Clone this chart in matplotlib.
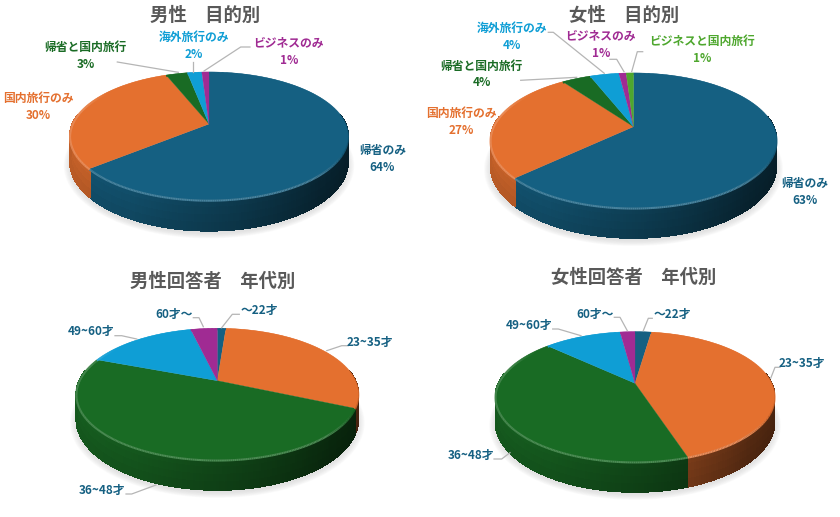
import numpy as np
import matplotlib
matplotlib.use("Agg")
import matplotlib.pyplot as plt
from matplotlib.collections import PolyCollection, LineCollection
from matplotlib.colors import to_rgb

plt.rcParams['font.family'] = ['Noto Sans CJK JP', 'DejaVu Sans']

azure = "#156082"
orange = "#E4702F"
green = "#196B24"
sky = "#0F9ED5"
purple = "#A02B93"
lime = "#4EA72E"

# data
men_purpose_names = ["帰省のみ", "国内旅行のみ", "帰省と国内旅行", "海外旅行のみ", "ビジネスのみ"]
men_purpose_vals = [64, 30, 3, 2, 1]
women_purpose_names = ["帰省のみ", "国内旅行のみ", "帰省と国内旅行", "海外旅行のみ", "ビジネスのみ", "ビジネスと国内旅行"]
women_purpose_vals = [63, 27, 4, 4, 1, 1]
age_names = ["～22才", "23~35才", "36~48才", "49~60才", "60才～"]
men_age_vals = [1.2, 30.4, 49.2, 15.5, 3.7]
women_age_vals = [2.3, 42.7, 42.0, 10.9, 2.1]

purpose_colors = [azure, orange, green, sky, purple, lime]
age_colors = [azure, orange, green, sky, purple]


def proj(th, g):
    # circle -> screen with a bit of perspective
    u = np.sin(th)
    v = np.cos(th)
    w = 1 + g["k"] * v
    return g["ax"] + g["A"] * u / w, g["ay"] - g["B"] * v / w, u, v, w


def draw_pie(ax, vals, colors, g):
    cum = np.cumsum([0] + list(vals)) / sum(vals) * 2 * np.pi
    colors = colors[:len(vals)]

    # soft shadow under the pie
    th = np.linspace(0, 2 * np.pi, 200)
    x, y, u, v, w = proj(th, g)
    for grow in np.linspace(1.045, 1.0, 8):
        sx = g["ax"] + (x - g["ax"]) * grow
        sy = y + g["D"] / w + 3 + (y - g["ay"]) * (grow - 1) * 1.4
        ax.fill(sx, sy, color="#c4c4c4", alpha=0.07, lw=0, zorder=1)

    # side wall
    polys = []
    cols = []
    layers = np.linspace(0, 1, 5)
    for i, col in enumerate(colors):
        rgb = np.array(to_rgb(col))
        n = max(3, int((cum[i + 1] - cum[i]) * 60))
        ths = np.linspace(cum[i], cum[i + 1], n + 1)
        x, y, u, v, w = proj(ths, g)
        for j in range(n):
            if v[j] > 0.15 and v[j + 1] > 0.15:
                continue
            um = (u[j] + u[j + 1]) / 2
            side = np.interp(um, [-1, -0.5, 0.1, 0.7, 1], [0.9, 0.82, 0.62, 0.38, 0.32])
            for t0, t1 in zip(layers[:-1], layers[1:]):
                d0 = g["D"] * t0
                d1 = g["D"] * t1
                polys.append([(x[j], y[j] + d0 / w[j]), (x[j + 1], y[j + 1] + d0 / w[j + 1]),
                              (x[j + 1], y[j + 1] + d1 / w[j + 1]), (x[j], y[j] + d1 / w[j])])
                cols.append(np.clip(rgb * side * (1.0 - 0.1 * (t0 + t1) / 2), 0, 1))
    ax.add_collection(PolyCollection(polys, facecolors=cols, edgecolors=cols, linewidths=0.7,
                                     antialiaseds=False, zorder=2))

    # top face
    for i, col in enumerate(colors):
        ths = np.linspace(cum[i], cum[i + 1], max(3, int((cum[i + 1] - cum[i]) * 90)))
        x, y, u, v, w = proj(ths, g)
        ax.fill(np.r_[g["ax"], x], np.r_[g["ay"], y], color=col, lw=0.2, zorder=3)

    # light bevel along the front rim
    segs = []
    cols = []
    for i, col in enumerate(colors):
        rgb = np.array(to_rgb(col))
        n = max(3, int((cum[i + 1] - cum[i]) * 90))
        ths = np.linspace(cum[i], cum[i + 1], n + 1)
        x, y, u, v, w = proj(ths, g)
        for j in range(n):
            nv = (v[j] + v[j + 1]) / 2
            nu = (u[j] + u[j + 1]) / 2
            a = np.clip(-nv * 0.5 - nu * 0.3 + 0.05, 0, 0.22)
            c = rgb + (1 - rgb) * a
            segs.append([(x[j], y[j] + 0.8), (x[j + 1], y[j + 1] + 0.8)])
            cols.append(c)
    ax.add_collection(LineCollection(segs, colors=cols, linewidths=1.5, zorder=4))


def put_labels(ax, names, vals, colors, places, leaders, show_pct):
    for i, name in enumerate(names):
        txt = name
        if show_pct:
            txt = f"{name}\n{round(vals[i])}%"
        ax.text(places[i][0], places[i][1], txt, color=colors[i], fontsize=8.5, fontweight="bold",
                ha="center", va="center", linespacing=1.4, zorder=6)
    for pts in leaders:
        pts = np.array(pts)
        ax.plot(pts[:, 0], pts[:, 1], color="#b5b5b5", lw=0.9, zorder=5)


fig = plt.figure(figsize=(8.4, 5.17), dpi=100)
ax = fig.add_axes([0, 0, 1, 1])
ax.set_xlim(0, 840)
ax.set_ylim(517, 0)
ax.axis("off")

geo1 = {"ax": 209, "ay": 124, "A": 136.5, "B": 61.7, "k": 0.187, "D": 25}
geo2 = {"ax": 633.5, "ay": 126.7, "A": 140, "B": 64.6, "k": 0.203, "D": 24}
geo3 = {"ax": 217.3, "ay": 380.7, "A": 138, "B": 63, "k": 0.203, "D": 24}
geo4 = {"ax": 635, "ay": 383.3, "A": 136.5, "B": 62.2, "k": 0.206, "D": 24}

draw_pie(ax, men_purpose_vals, purpose_colors, geo1)
draw_pie(ax, women_purpose_vals, purpose_colors, geo2)
draw_pie(ax, men_age_vals, age_colors, geo3)
draw_pie(ax, women_age_vals, age_colors, geo4)

put_labels(ax, men_purpose_names, men_purpose_vals, purpose_colors,
           [(382.5, 159), (38.7, 107), (85.7, 55.5), (194, 45.5), (288.7, 51.5)],
           [[(117.3, 62), (178.3, 72.3)],
            [(193.3, 61.7), (193.3, 71.7)],
            [(250, 47), (240.7, 47), (204, 71)]], True)
put_labels(ax, women_purpose_names, women_purpose_vals, purpose_colors,
           [(805, 191.5), (461.7, 122), (481.7, 74.5), (511.7, 37), (600.7, 45), (702, 50)],
           [[(520.7, 80.3), (576.7, 77.3)],
            [(548.3, 32.3), (553.3, 32.3), (604.3, 73.3)],
            [(610, 59.3), (616.7, 59.3), (624, 71.7)],
            [(642.7, 51.7), (637.3, 51.7), (631.7, 71.7)]], True)
put_labels(ax, age_names, men_age_vals, [azure] * 5,
           [(259.3, 310.7), (370, 342.3), (101.7, 490), (90.7, 331.7), (174, 314.3)],
           [[(239.3, 314.3), (232.3, 314.3), (221.7, 327.7)],
            [(348.3, 345.7), (341.7, 345.7), (326.7, 350.7)],
            [(126, 494), (131.7, 494), (156, 485)],
            [(115, 335.7), (121.7, 335.7), (136.7, 339)],
            [(193.3, 317.7), (199, 317.7), (203.3, 326.7)]], False)
put_labels(ax, age_names, women_age_vals, [azure] * 5,
           [(672.7, 314.7), (802.3, 363.3), (470.7, 455), (529.3, 325.7), (595, 314)],
           [[(652.3, 318.3), (648.3, 318.3), (643.3, 330.7)],
            [(780, 367.3), (775, 367.3), (770.7, 378.3)],
            [(494, 459), (501.7, 459), (510, 452.7)],
            [(552.7, 329), (558.3, 329), (581, 335.7)],
            [(614.3, 317.3), (620, 317.3), (627.3, 330.7)]], False)

titles = ["男性　目的別", "女性　目的別", "男性回答者　年代別", "女性回答者　年代別"]
title_xy = [(205, 15), (624, 15), (213, 281), (634, 277)]
for t, (tx, ty) in zip(titles, title_xy):
    ax.text(tx, ty, t, color="#595959", fontsize=13.2, fontweight="bold", ha="center", va="center", zorder=6)

fig.savefig("out.png", dpi=100)
